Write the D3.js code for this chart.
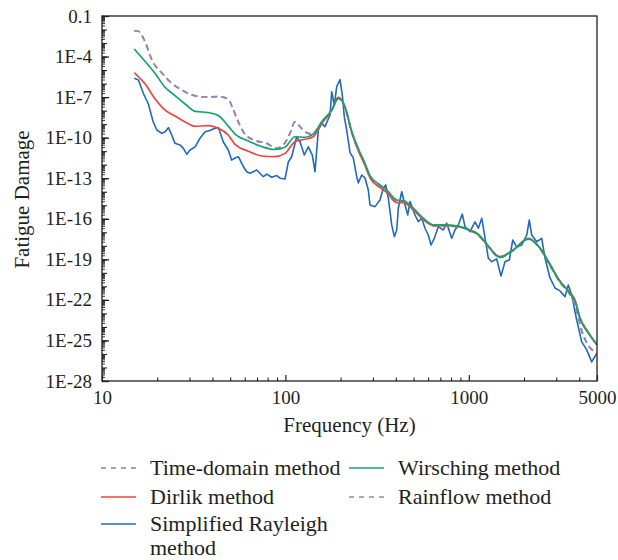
<!DOCTYPE html>
<html>
<head>
<meta charset="utf-8">
<script src="https://cdn.jsdelivr.net/npm/d3@7/dist/d3.min.js"></script>
<style>
  body { margin: 0; background: #fff; }
  text { font-family: "Liberation Serif", "DejaVu Serif", serif; fill: #231f20; }
</style>
</head>
<body>
<svg id="chart" width="618" height="560"></svg>
<script>
// Fatigue damage spectra, Hz vs damage
const smoothFreq = [15, 17.2, 19.5, 22, 25, 28.4, 32.2, 38, 43.1, 48.8, 53.1, 62.8, 74.3, 87.8, 99.5,
  112.8, 127.9, 141.9, 157.8, 178.8, 194.4, 211.3, 229.8, 249.7, 271.6, 289.2, 328, 356.7, 404.6, 439.6,
  498.2, 564.8, 640.4, 757.7, 895.4, 1015, 1104, 1200, 1252, 1480, 1748, 2111, 2445, 2772, 3143, 3563,
  3793, 4040, 4483, 5000];

const wirschingDamage = [3.6e-4, 4.3e-5, 5.6e-6, 5.6e-7, 1.3e-7, 3.1e-8, 8.7e-9, 7.2e-9, 4.4e-9, 7.2e-10,
  1.86e-10, 5.6e-11, 2.2e-11, 1.35e-11, 1.95e-11, 1.17e-10, 1.07e-10, 1.86e-10, 1.5e-9, 1.12e-8, 7.6e-8,
  1.95e-8, 3.16e-10, 1.58e-11, 1.26e-12, 1.58e-13, 3.16e-14, 1.35e-14, 2.45e-15, 2.2e-15, 6.0e-16,
  1.1e-16, 3.5e-17, 3.5e-17, 2.6e-17, 1.5e-17, 8.9e-18, 2.8e-18, 1.4e-18, 1.4e-19, 4.9e-19, 3.3e-18,
  6.6e-19, 3.8e-20, 2.2e-21, 3.1e-22, 7.9e-23, 4.0e-24, 3.4e-25, 4.7e-26];

const dirlikDamage = [6.6e-6, 9.3e-7, 7.2e-8, 1.12e-8, 4.0e-9, 1.45e-9, 6.8e-10, 7.9e-10, 4.9e-10, 1.58e-10,
  3.16e-11, 1.0e-11, 4.4e-12, 4.0e-12, 6.9e-12, 5.0e-11, 7.6e-11, 1.17e-10, 1.12e-9, 1.0e-8, 9.5e-8,
  1.78e-8, 2.5e-10, 1.12e-11, 8.9e-13, 1.12e-13, 2.0e-14, 8.9e-15, 1.58e-15, 1.58e-15, 4.5e-16,
  8.9e-17, 3.16e-17, 3.16e-17, 2.5e-17, 1.4e-17, 7.9e-18, 2.5e-18, 1.26e-18, 1.58e-19, 5.0e-19, 3.5e-18,
  7.1e-19, 4.5e-20, 2.5e-21, 3.5e-22, 1.0e-22, 5.0e-24, 4.0e-25, 5.0e-26];

const rainflowFreq = [15, 15.8, 17.2, 18.7, 21.2, 24, 27.2, 30.8, 36.4, 42.9, 48.8, 51.5, 55.4, 58.9, 66.8,
  79.1, 89.7, 97.4, 105.9, 112.8, 120.1, 127.9, 139.6, 157.8, 178.8, 194.4, 211.3, 229.8, 249.7, 271.6,
  289.2, 328, 356.7, 404.6, 439.6, 498.2, 564.8, 640.4, 757.7, 895.4, 1015, 1104, 1200, 1252, 1480, 1748,
  2111, 2445, 2772, 3143, 3563, 3793, 4127, 4395, 4875, 5000];

const rainflowDamage = [8.1e-3, 7.4e-3, 1.2e-3, 5.6e-5, 6.0e-6, 1.05e-6, 3.4e-7, 1.45e-7, 1.02e-7, 1.07e-7,
  7.2e-8, 1.6e-8, 1.45e-9, 2.75e-10, 6.8e-11, 3.8e-11, 1.63e-11, 2.9e-11, 2.1e-10, 1.5e-9, 6.5e-10,
  2.75e-10, 1.86e-10, 1.26e-9, 1.05e-8, 9.3e-8, 1.8e-8, 2.6e-10, 1.17e-11, 1.0e-12, 1.2e-13, 2.2e-14,
  1.0e-14, 1.78e-15, 1.78e-15, 5.0e-16, 9.5e-17, 3.16e-17, 3.0e-17, 2.4e-17, 1.3e-17, 7.6e-18, 2.4e-18,
  1.2e-18, 1.4e-19, 4.5e-19, 3.16e-18, 6.3e-19, 3.5e-20, 2.0e-21, 2.5e-22, 4.0e-23, 4.5e-25, 6.3e-26,
  1.26e-26, 1.0e-26];

const timeDomainFreq = [15, 15.8, 17.2, 18.7, 21.2, 24, 27.2, 30.8, 36.4, 42.9, 48.8, 51.5, 55.4, 58.9, 66.8,
  79.1, 89.7, 97.4, 105.9, 112.8, 120.1, 127.9, 139.6, 157.8, 178.8, 194.4, 211.3, 229.8, 249.7, 271.6,
  289.2, 328, 356.7, 404.6, 439.6, 498.2, 564.8, 640.4, 757.7, 895.4, 1015, 1104, 1200, 1252, 1480, 1748,
  2111, 2445, 2772, 3143, 3563, 3793, 4127, 4395, 4875, 5000];
const timeDomainDamage = [8.1e-3, 7.4e-3, 1.2e-3, 5.6e-5, 6.0e-6, 1.05e-6, 3.4e-7, 1.45e-7, 1.02e-7, 1.07e-7,
  7.2e-8, 1.6e-8, 1.45e-9, 2.75e-10, 6.8e-11, 3.8e-11, 1.63e-11, 2.9e-11, 2.1e-10, 1.5e-9, 6.5e-10,
  2.75e-10, 1.86e-10, 1.26e-9, 1.05e-8, 9.3e-8, 1.8e-8, 2.6e-10, 1.17e-11, 1.0e-12, 1.2e-13, 2.2e-14,
  1.0e-14, 1.78e-15, 1.78e-15, 5.0e-16, 9.5e-17, 3.16e-17, 3.0e-17, 2.4e-17, 1.3e-17, 7.6e-18, 2.4e-18,
  1.2e-18, 1.4e-19, 4.5e-19, 3.16e-18, 6.3e-19, 3.5e-20, 2.0e-21, 2.5e-22, 5.0e-23, 6.0e-25, 7.0e-26,
  1.4e-26, 1.1e-26];

const rayleighFreq = [15.0, 15.8, 16.8, 17.9, 19.0, 19.9, 21.2, 22.1, 23.0, 24.0, 25.0, 26.6, 27.8, 29.0,
  30.2, 32.2, 34.2, 36.5, 38.8, 41.3, 43.1, 45.8, 48.8, 50.9, 53.1, 55.4, 59.0, 61.5, 64.1, 69.8, 75.8,
  79.1, 84.2, 89.7, 93.5, 99.5, 103.7, 108.2, 115.2, 120.1, 126.8, 133.3, 140.2, 145.0, 151.2, 157.8,
  164.4, 175.1, 178.8, 184.8, 190.5, 198.5, 204.3, 209.5, 215.9, 225.0, 234.5, 244.8, 249.7, 260.6,
  271.6, 283.1, 289.2, 308.1, 328.0, 341.8, 352.3, 364.0, 379.9, 392.5, 404.6, 412.7, 430.7, 448.9,
  464.4, 478.0, 508.9, 530.4, 553.5, 576.9, 601.4, 622.1, 648.4, 682.0, 726.1, 757.7, 807.0, 841.1,
  876.6, 921.8, 953.4, 1015, 1081, 1127, 1176, 1226, 1278, 1333, 1419, 1498, 1576, 1663, 1736, 1825,
  1943, 2069, 2137, 2203, 2345, 2498, 2603, 2772, 2951, 3143, 3346, 3487, 3640, 3876, 4127, 4395,
  4678, 4816, 5000];

const rayleighDamage = [2.45e-6, 1.86e-6, 1.9e-7, 3.1e-8, 1.5e-9, 3.7e-10, 2.1e-10, 2.75e-10, 5.5e-10,
  1.58e-10, 3.8e-11, 2.9e-11, 1.63e-11, 5.9e-12, 1.23e-11, 2.1e-11, 8.9e-11, 2.75e-10, 3.4e-10, 4.9e-10,
  5.6e-10, 5.0e-11, 1.23e-11, 2.2e-12, 3.16e-12, 3.9e-12, 7.1e-13, 3.0e-13, 2.3e-13, 4.1e-13, 1.29e-13,
  2.0e-13, 1.17e-13, 1.58e-13, 1.0e-13, 8.7e-14, 1.58e-12, 3.9e-12, 1.17e-10, 5.0e-11, 5.2e-12, 2.1e-11,
  5.2e-12, 3.0e-13, 3.7e-10, 1.15e-9, 6.5e-10, 4.8e-9, 2.5e-7, 2.6e-8, 5.9e-7, 2.0e-6, 1.45e-7, 3.5e-9,
  3.7e-10, 8.0e-12, 3.16e-12, 1.29e-13, 4.5e-14, 1.74e-13, 1.05e-13, 1.35e-14, 1.05e-15, 7.9e-16,
  2.45e-15, 1.8e-14, 3.16e-14, 3.3e-15, 3.5e-17, 4.8e-18, 1.48e-17, 6.0e-16, 1.0e-14, 1.05e-15, 1.9e-16,
  1.86e-15, 1.9e-16, 6.2e-17, 1.1e-16, 2.0e-17, 6.3e-18, 1.15e-18, 3.6e-18, 2.6e-17, 1.48e-17, 4.7e-17,
  3.6e-18, 1.48e-17, 3.5e-17, 2.2e-16, 2.6e-17, 1.12e-17, 5.8e-17, 2.0e-17, 1.1e-16, 3.8e-18, 1.2e-19,
  6.8e-20, 1.07e-19, 5.9e-21, 6.8e-20, 8.9e-20, 2.7e-18, 8.1e-19, 1.15e-18, 6.3e-18, 8.1e-17, 6.3e-18,
  2.0e-18, 3.6e-18, 1.26e-19, 4.2e-21, 7.6e-22, 4.6e-22, 1.74e-22, 1.26e-21, 2.3e-22, 3.2e-24, 7.8e-26,
  2.0e-26, 2.6e-27, 5.0e-27, 1.17e-26];

// Axis ticks
const xMajorTicks = [10, 100, 1000, 5000];
const xMajorLabels = ["10", "100", "1000", "5000"];
const xMinorTicks = [20, 30, 40, 50, 60, 70, 80, 90, 200, 300, 400, 500, 600, 700, 800, 900, 2000, 3000, 4000];
const yMajorTicks = [1e-1, 1e-4, 1e-7, 1e-10, 1e-13, 1e-16, 1e-19, 1e-22, 1e-25, 1e-28];
const yMajorLabels = ["0.1", "1E-4", "1E-7", "1E-10", "1E-13", "1E-16", "1E-19", "1E-22", "1E-25", "1E-28"];

// Series drawn bottom to top
const series = [
  { name: "Simplified Rayleigh method", freq: rayleighFreq, damage: rayleighDamage, color: "#2169bd", dash: null, smooth: false },
  { name: "Time-domain method", freq: timeDomainFreq, damage: timeDomainDamage, color: "#858585", dash: "6,4", smooth: true },
  { name: "Rainflow method", freq: rainflowFreq, damage: rainflowDamage, color: "#9b80c3", dash: "6,4", smooth: true },
  { name: "Dirlik method", freq: smoothFreq, damage: dirlikDamage, color: "#ee4640", dash: null, smooth: true },
  { name: "Wirsching method", freq: smoothFreq, damage: wirschingDamage, color: "#12a56b", dash: null, smooth: true }
];

const legendOrder = ["Time-domain method", "Wirsching method", "Dirlik method", "Rainflow method", "Simplified Rayleigh method"];

const svg = d3.select("#chart");
const plot = { left: 102, right: 597, top: 16, bottom: 381 };

const x = d3.scaleLog().domain([10, 5000]).range([plot.left, plot.right]);
const y = d3.scaleLog().domain([1e-28, 0.1]).range([plot.bottom, plot.top]);

// Curves
svg.append("defs").append("clipPath").attr("id", "plotClip")
  .append("rect").attr("x", plot.left).attr("y", plot.top)
  .attr("width", plot.right - plot.left).attr("height", plot.bottom - plot.top);

const gLines = svg.append("g").attr("clip-path", "url(#plotClip)");
series.forEach(s => {
  const pts = s.freq.map((f, i) => [f, s.damage[i]]);
  const line = d3.line()
    .x(d => x(d[0])).y(d => y(d[1]))
    .curve(s.smooth ? d3.curveMonotoneX : d3.curveLinear);
  gLines.append("path")
    .datum(pts)
    .attr("d", line)
    .attr("fill", "none")
    .attr("stroke", s.color)
    .attr("stroke-width", s.smooth ? 1.7 : 1.6)
    .attr("stroke-linejoin", "round")
    .attr("stroke-dasharray", s.dash);
});

// Frame
const axisColor = "#231f20";
svg.append("rect")
  .attr("x", plot.left).attr("y", plot.top)
  .attr("width", plot.right - plot.left).attr("height", plot.bottom - plot.top)
  .attr("fill", "none").attr("stroke", axisColor).attr("stroke-width", 1.3);

// X axis (ticks point into the plot)
const xAxis = d3.axisBottom(x)
  .tickValues(xMajorTicks)
  .tickFormat((d, i) => xMajorLabels[i])
  .tickSize(-6).tickPadding(10);
const gx = svg.append("g").attr("transform", `translate(0,${plot.bottom})`).call(xAxis);
gx.select(".domain").remove();
gx.selectAll(".tick line").attr("stroke", axisColor).attr("stroke-width", 1.2);
gx.selectAll(".tick text").attr("font-size", 19).style("font-family", '"Liberation Serif", serif').attr("fill", axisColor);

const xMinorAxis = d3.axisBottom(x).tickValues(xMinorTicks).tickFormat("").tickSize(-3.5);
const gxm = svg.append("g").attr("transform", `translate(0,${plot.bottom})`).call(xMinorAxis);
gxm.select(".domain").remove();
gxm.selectAll(".tick line").attr("stroke", axisColor).attr("stroke-width", 1.1);

// Y axis
const yAxis = d3.axisLeft(y)
  .tickValues(yMajorTicks)
  .tickFormat((d, i) => yMajorLabels[i])
  .tickSize(-7).tickPadding(10);
const gy = svg.append("g").attr("transform", `translate(${plot.left},0)`).call(yAxis);
gy.select(".domain").remove();
gy.selectAll(".tick line").attr("stroke", axisColor).attr("stroke-width", 1.3);
gy.selectAll(".tick text").attr("font-size", 19).style("font-family", '"Liberation Serif", serif').attr("fill", axisColor);

// Decade and sub-decade ticks on the damage axis
const yDecades = d3.range(-28, -1).map(e => Math.pow(10, e));
const ySubTicks = [];
d3.range(-28, -1).forEach(e => {
  for (let m = 2; m <= 9; m++) ySubTicks.push(m * Math.pow(10, e));
});
const gyd = svg.append("g").attr("transform", `translate(${plot.left},0)`)
  .call(d3.axisLeft(y).tickValues(yDecades).tickFormat("").tickSize(-5));
gyd.select(".domain").remove();
gyd.selectAll(".tick line").attr("stroke", axisColor).attr("stroke-width", 1.1);
const gys = svg.append("g").attr("transform", `translate(${plot.left},0)`)
  .call(d3.axisLeft(y).tickValues(ySubTicks).tickFormat("").tickSize(-3));
gys.select(".domain").remove();
gys.selectAll(".tick line").attr("stroke", axisColor).attr("stroke-width", 0.9);

// Axis titles
svg.append("text")
  .attr("x", (plot.left + plot.right) / 2).attr("y", 432)
  .attr("text-anchor", "middle").attr("font-size", 21)
  .text("Frequency (Hz)");
svg.append("text")
  .attr("transform", "translate(29,199.5) rotate(-90)")
  .attr("text-anchor", "middle").attr("font-size", 21)
  .text("Fatigue Damage");

// Legend
const legendCols = [101, 349];
const legendRowY = [468, 497, 524];
const legend = svg.append("g");
legendOrder.forEach((name, i) => {
  const s = series.find(d => d.name === name);
  const col = i % 2, row = Math.floor(i / 2);
  const lx = legendCols[col], ly = legendRowY[row];
  legend.append("line")
    .attr("x1", lx).attr("x2", lx + 35).attr("y1", ly).attr("y2", ly)
    .attr("stroke", s.color).attr("stroke-width", 1.6)
    .attr("stroke-dasharray", s.dash ? "5,5" : null);
  const t = legend.append("text")
    .attr("x", lx + 49).attr("y", ly + 7)
    .attr("font-size", 22);
  if (name === "Simplified Rayleigh method") {
    t.append("tspan").attr("x", lx + 49).text("Simplified Rayleigh");
    t.append("tspan").attr("x", lx + 49).attr("dy", 24).text("method");
  } else {
    t.text(name);
  }
});
</script>
</body>
</html>
